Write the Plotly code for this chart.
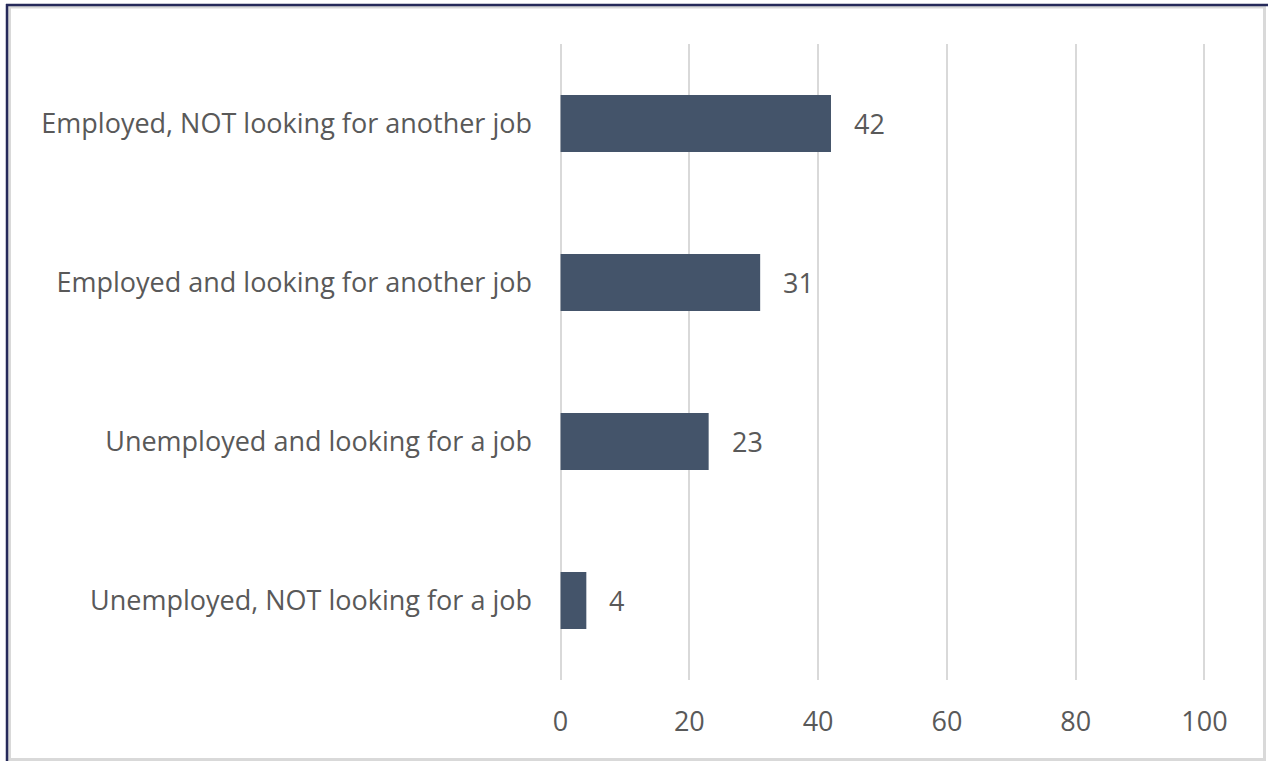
import plotly.graph_objects as go

# Employment status of respondents (%)
categories = [
    "Employed, NOT looking for another job",
    "Employed and looking for another job",
    "Unemployed and looking for a job",
    "Unemployed, NOT looking for a job",
]
values = [42, 31, 23, 4]
x_ticks = [0, 20, 40, 60, 80, 100]

W, H = 1268, 761
X0_PX, X100_PX = 561, 1204          # where 0 and 100 sit on the page
PAD = 0.4                           # small overhang so edge gridlines are drawn
UNIT = (X100_PX - X0_PX) / 100
M_L = round(X0_PX - PAD * UNIT)
M_R = round(W - (X100_PX + PAD * UNIT))
M_T, M_B = 44, 81
FONT = "Open Sans"
FS = 27
TEXT_COLOR = "#595959"
BAR_COLOR = "#44546a"

fig = go.Figure(
    go.Bar(
        x=values,
        y=categories,
        orientation="h",
        marker=dict(color=BAR_COLOR, line=dict(width=0)),
        hoverinfo="skip",
    )
)

# value labels just right of each bar
for cat, val in zip(categories, values):
    fig.add_annotation(
        x=val, y=cat, text=str(val), showarrow=False,
        xanchor="left", yanchor="middle", xshift=21,
        font=dict(family=FONT, size=FS, color=TEXT_COLOR),
    )

# frame around the chart area (pixel positions converted to paper units)
pw, ph = W - M_L - M_R, H - M_T - M_B


def px(x):
    return (x - M_L) / pw


def py(y):
    return (H - M_B - y) / ph


fig.add_shape(type="rect", xref="paper", yref="paper",
              x0=px(9.5), x1=px(1264.5), y0=py(759.5), y1=py(7),
              line=dict(color="#d9d9d9", width=3), fillcolor="rgba(0,0,0,0)", layer="below")
fig.add_shape(type="line", xref="paper", yref="paper",
              x0=px(7), x1=px(7), y0=py(761), y1=py(4),
              line=dict(color="#262a5a", width=2.5))
fig.add_shape(type="line", xref="paper", yref="paper",
              x0=px(6), x1=px(1268), y0=py(5), y1=py(5),
              line=dict(color="#262a5a", width=2.5))

fig.update_layout(
    width=W, height=H,
    margin=dict(l=M_L, r=M_R, t=M_T, b=M_B),
    paper_bgcolor="white", plot_bgcolor="white",
    bargap=0.64,
    showlegend=False,
    font=dict(family=FONT, size=FS, color=TEXT_COLOR),
    xaxis=dict(
        range=[-PAD, 100 + PAD], tickvals=x_ticks, ticktext=[str(t) for t in x_ticks],
        showgrid=True, gridcolor="#d9d9d9", gridwidth=2,
        zeroline=False, showline=False, ticks="",
        ticklabelstandoff=23,
        tickfont=dict(family=FONT, size=FS, color=TEXT_COLOR),
        fixedrange=True,
    ),
    yaxis=dict(
        autorange="reversed", showgrid=False, zeroline=False, showline=False,
        ticks="", ticklabelstandoff=25,
        tickfont=dict(family=FONT, size=FS, color=TEXT_COLOR),
        fixedrange=True,
    ),
)

fig.write_html("out.html", config=dict(displayModeBar=False))
